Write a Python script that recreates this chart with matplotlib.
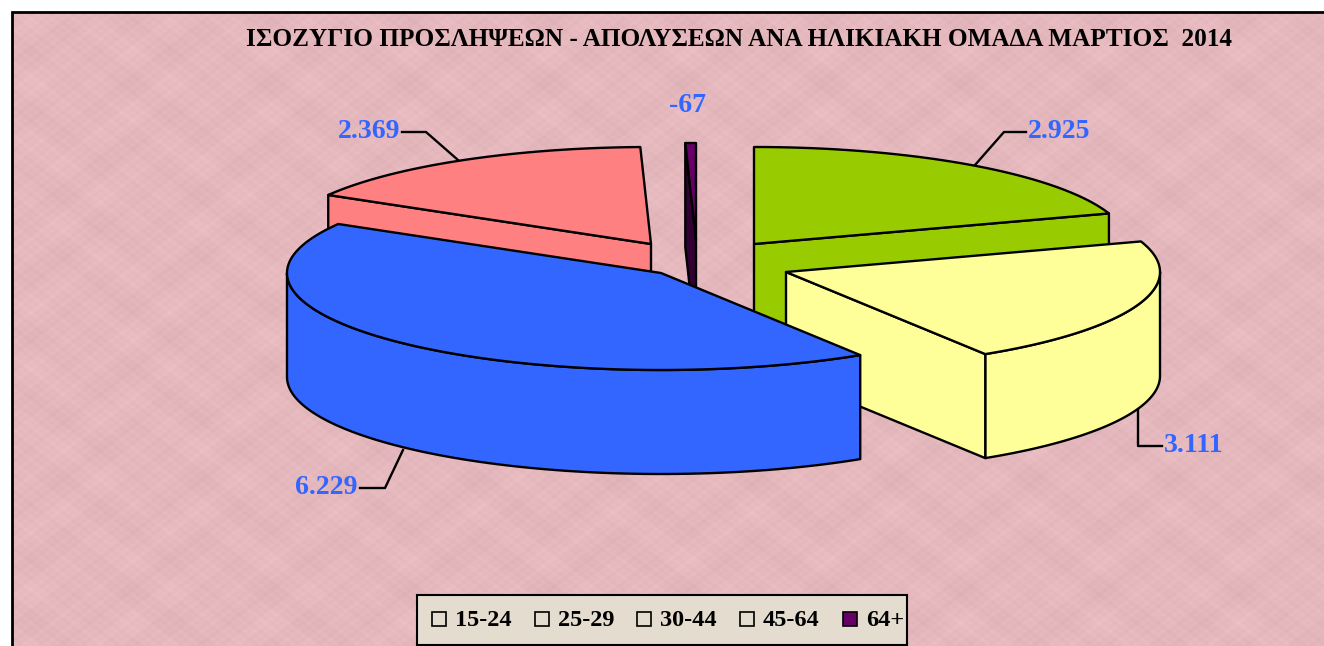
import numpy as np
import matplotlib
from matplotlib import pyplot as plt
from matplotlib.patches import Polygon, Rectangle

matplotlib.use('Agg')

title = 'ΙΣΟΖΥΓΙΟ ΠΡΟΣΛΗΨΕΩΝ - ΑΠΟΛΥΣΕΩΝ ΑΝΑ ΗΛΙΚΙΑΚΗ ΟΜΑΔΑ ΜΑΡΤΙΟΣ  2014'
categories = ['15-24', '25-29', '30-44', '45-64', '64+']
values = [2925, 3111, 6229, 2369, -67]

top_colors = ['#99CC00', '#FFFF99', '#3366FF', '#FF8080', '#660066']
wall_colors = ['#99CC00', '#FFFF99', '#3366FF', '#FF8080', '#330033']
swatch_colors = ['#E3DCCF', '#E3DCCF', '#E3DCCF', '#E3DCCF', '#660066']
draw_order = [4, 3, 0, 1, 2]

# pie geometry, in pixels of the picture
tips = [(754, 244), (786, 272), (661, 273), (651, 244), (696, 240)]  # exploded slice tips
rx, ry = 374, 97
depth = 104
lw = 1.7
serif = ['Liberation Serif', 'DejaVu Serif']

# label anchor and leader line for each slice
label_pos = [(1028, 131, 'left'), (1164, 445, 'left'), (358, 487, 'right'),
             (400, 131, 'right'), (688, 105, 'center')]
leaders = [[(1026, 132), (1004, 132), (975, 165)],
           [(1162, 446), (1138, 446), (1138, 410)],
           [(360, 488), (385, 488), (403, 450)],
           [(402, 132), (426, 132), (458, 160)],
           None]
legend_x = [432, 535, 637, 740, 843]

fig = plt.figure(figsize=(13.24, 6.46), dpi=100)
ax = fig.add_axes([0, 0, 1, 1])
ax.set_xlim(0, 1324)
ax.set_ylim(646, 0)
ax.axis('off')

# pink paper background
yy, xx = np.mgrid[0:634, 0:1312]
paper = (np.sin(xx / 11.0) * np.sin(yy / 9.0) + np.sin(xx / 22.5) * np.cos(yy / 11.5) * 0.8
         + np.sin(xx / 1.7) * np.sin(yy / 1.3) * 0.9 + np.sin(xx / 3.7) * np.cos(yy / 2.9) * 0.7)
base = np.array([229, 184, 190]) / 255.0
tile = np.clip(base[None, None, :] + paper[:, :, None] * 0.011, 0, 1)
ax.imshow(tile, extent=(12, 1324, 646, 12), aspect='auto', zorder=0, interpolation='bilinear')
ax.set_xlim(0, 1324)
ax.set_ylim(646, 0)
ax.plot([1324, 12, 12], [12, 12, 646], color='black', lw=2, zorder=1, solid_joinstyle='miter')

ax.text(739.5, 40, title, family=serif, fontsize=18.2, fontweight='bold', ha='center', va='center', zorder=9)

# slice angles, clockwise from north
sizes = np.abs(values)
edges = np.concatenate([[0], np.cumsum(sizes) / sizes.sum() * 2 * np.pi])


def rim(ox, oy, a, b, drop=0):
    t = np.linspace(a, b, max(int(np.degrees(b - a)), 2))
    return np.column_stack([ox + rx * np.sin(t), oy - ry * np.cos(t) + drop])


def face(pts, color, z):
    ax.add_patch(Polygon(pts, closed=True, facecolor=color, edgecolor='black', lw=lw, joinstyle='round', zorder=z))


z = 2
for i in draw_order:
    a, b = edges[i], edges[i + 1]
    ox, oy = tips[i]

    # front part of the outer wall
    lo, hi = max(a, np.pi / 2), min(b, 3 * np.pi / 2)
    if lo < hi:
        upper = rim(ox, oy, lo, hi)
        lower = rim(ox, oy, lo, hi, depth)
        face(np.vstack([upper, lower[::-1]]), wall_colors[i], z)

    # the straight walls that face the viewer
    for ang, seen in ((a, np.sin(a) < 0), (b, np.sin(b) > 0)):
        if seen:
            px = ox + rx * np.sin(ang)
            py = oy - ry * np.cos(ang)
            face([(ox, oy), (px, py), (px, py + depth), (ox, oy + depth)], wall_colors[i], z)

    face(np.vstack([[(ox, oy)], rim(ox, oy, a, b)]), top_colors[i], z)
    z += 1

# data labels with leader lines
for i in range(len(values)):
    x, y, ha = label_pos[i]
    ax.text(x, y + 1, f'{values[i]:,}'.replace(',', '.'), family=serif, fontsize=20, fontweight='bold',
            color='#3366FF', ha=ha, va='center', zorder=9)
    if leaders[i]:
        ax.plot(*zip(*leaders[i]), color='black', lw=lw, zorder=1.5)

# legend
ax.add_patch(Rectangle((417, 595), 490, 50, facecolor='#E3DCCF', edgecolor='black', lw=1.5, zorder=9))
for i in range(len(categories)):
    ax.add_patch(Rectangle((legend_x[i], 612), 14, 14, facecolor=swatch_colors[i], edgecolor='black', lw=1.2, zorder=10))
    ax.text(legend_x[i] + 23, 620, categories[i], family=serif, fontsize=17.5, fontweight='bold',
            ha='left', va='center', zorder=10)

fig.savefig('out.png', dpi=100)
